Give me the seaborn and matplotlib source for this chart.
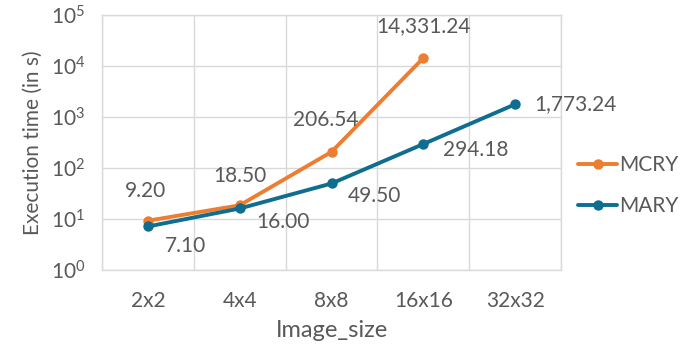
import matplotlib
matplotlib.use("Agg")
import matplotlib.pyplot as plt
import seaborn as sns
import pandas as pd
from matplotlib.lines import Line2D

image_sizes = ["2x2", "4x4", "8x8", "16x16", "32x32"]
mcry_times = [9.20, 18.50, 206.54, 14331.24]
mary_times = [7.10, 16.00, 49.50, 294.18, 1773.24]

df = pd.concat([
    pd.DataFrame({"Image_size": image_sizes[:len(mcry_times)], "time": mcry_times, "method": "MCRY"}),
    pd.DataFrame({"Image_size": image_sizes, "time": mary_times, "method": "MARY"}),
])

sns.set_theme(style="white")
plt.rcParams["font.family"] = ["Lato", "DejaVu Sans"]
text_color = "#595959"
grid_color = "#d9d9d9"
colors = {"MCRY": "#ED7D31", "MARY": "#0F6E8F"}
label_size = 15

fig = plt.figure(figsize=(6.82, 3.5), dpi=100)
ax = fig.add_axes([0.1496, 0.229, 0.6730, 0.728])

df["x"] = df["Image_size"].map({s: i for i, s in enumerate(image_sizes)})
sns.lineplot(data=df, x="x", y="time", hue="method", palette=colors,
             marker="o", markersize=7.5, markeredgewidth=0, linewidth=2.8,
             hue_order=["MCRY", "MARY"], ax=ax, legend=False)

ax.set_yscale("log")
ax.set_ylim(1, 1e5)
ax.set_xlim(-0.5, 4.5)
ax.set_xticks(range(len(image_sizes)))
ax.set_xticklabels(image_sizes)
ax.set_xticks([i - 0.5 for i in range(len(image_sizes) + 1)], minor=True)
ax.set_yticks([1, 10, 100, 1000, 1e4, 1e5])
ax.yaxis.set_minor_locator(matplotlib.ticker.NullLocator())
ax.grid(True, which="major", axis="y", color=grid_color, linewidth=1)
ax.grid(True, which="minor", axis="x", color=grid_color, linewidth=1)
ax.tick_params(axis="both", which="both", length=0, labelsize=label_size, colors=text_color)
ax.tick_params(axis="x", pad=15)
ax.tick_params(axis="y", pad=12)
for s in ax.spines.values():
    s.set_color(grid_color)
    s.set_linewidth(1)

ax.set_xlabel("Image_size", fontsize=17, color=text_color, labelpad=7)
ax.set_ylabel("Execution time (in s)", fontsize=15, color=text_color, labelpad=6)

# value labels
mcry_offsets = [(-2, 14), (0, 14), (-4, 16), (0, 16)]
mary_offsets = [(12, -14), (12, -10), (12, -9), (14, -4), (14, 0)]
for i, (v, (dx, dy)) in enumerate(zip(mcry_times, mcry_offsets)):
    ax.annotate(f"{v:,.2f}", (i, v), xytext=(dx, dy), textcoords="offset points",
                ha="center", va="bottom", fontsize=label_size, color=text_color)
for i, (v, (dx, dy)) in enumerate(zip(mary_times, mary_offsets)):
    ax.annotate(f"{v:,.2f}", (i, v), xytext=(dx, dy), textcoords="offset points",
                ha="left", va="center", fontsize=label_size, color=text_color)

# legend
handles = [Line2D([], [], color=colors[m], marker="o", markersize=7.5, markeredgewidth=0, linewidth=2.8)
           for m in ["MCRY", "MARY"]]
fig.legend(handles, ["MCRY", "MARY"], loc="center left", bbox_to_anchor=(0.835, 0.47),
           frameon=False, fontsize=label_size, labelcolor=text_color, handlelength=1.9,
           handletextpad=0.1, labelspacing=1.0, borderaxespad=0)

fig.savefig("out.png", dpi=100)
